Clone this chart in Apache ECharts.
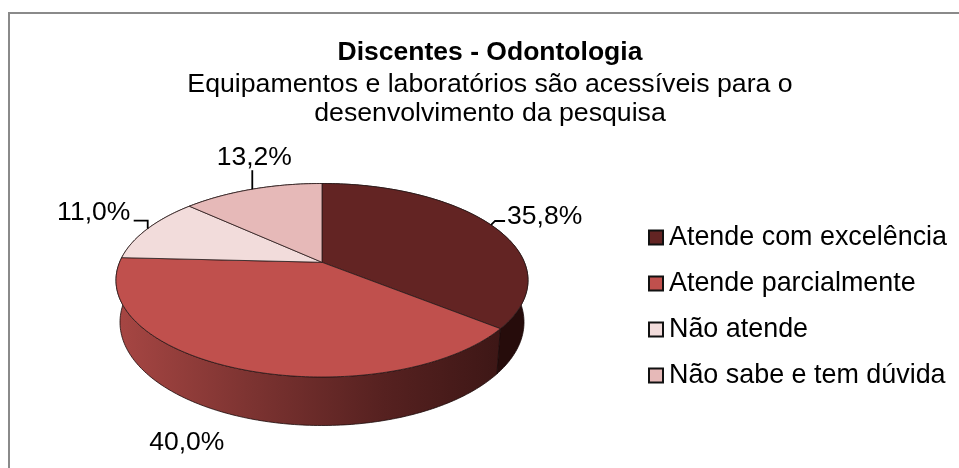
<!DOCTYPE html>
<html>
<head>
<meta charset="utf-8">
<style>
  html, body { margin: 0; padding: 0; background: #fff; }
  #chart { width: 959px; height: 468px; }
</style>
</head>
<body>
<div id="chart"></div>
<script src="https://cdn.jsdelivr.net/npm/echarts@6/dist/echarts.min.js"></script>
<script>
var categories = ["Atende com excelência", "Atende parcialmente", "Não atende", "Não sabe e tem dúvida"];
var values = [35.8, 40.0, 11.0, 13.2];

var faceColors = ["#632423", "#C0504D", "#F2DCDB", "#E6B9B8"];
var font = "Liberation Sans";

// top and bottom rim of the disc, seen in perspective
var topRim = { cx: 322, top: 183.5, bottom: 377, rx: 206 };
var bottomRim = { cx: 322, top: 219, bottom: 425.5, rx: 202 };
var perspective = -0.1856;

// label position and leader bend, relative to the rim point of the slice
var labelOffsets = [[16, -8], [-48, 75], [-54, -16], [2, -32]];
var leaderPaths = [[[4, -4], [14, -4]], [], [[0, -8], [-14, -8]], [[0, -19]]];

function rimPoint(rim, share) {
  var angle = share * 2 * Math.PI;
  var u = Math.sin(angle);
  var v = -Math.cos(angle);
  var k = perspective;
  // apex height so that v = -1 and v = 1 land on the rim's top and bottom
  var apexY = ((1 + k) * rim.bottom + (1 - k) * rim.top) / 2;
  var a = (rim.bottom - apexY) * (1 + k);
  var ellipseCy = (rim.top + rim.bottom) / 2;
  var ry = (rim.bottom - rim.top) / 2;
  var d = (apexY - ellipseCy) / ry;
  var halfX = rim.rx * Math.sqrt(1 - d * d);
  return [rim.cx + halfX * u / (1 + k * v), apexY + a * v / (1 + k * v)];
}

function apex(rim) {
  var k = perspective;
  return [rim.cx, ((1 + k) * rim.bottom + (1 - k) * rim.top) / 2];
}

function sliceRange(i) {
  var total = values.reduce(function (s, v) { return s + v; }, 0);
  var before = 0;
  for (var n = 0; n < i; n++) before += values[n];
  return [before / total, (before + values[i]) / total];
}

function arc(rim, from, to) {
  var pts = [];
  var steps = Math.max(2, Math.ceil((to - from) * 400));
  for (var s = 0; s <= steps; s++) {
    pts.push(rimPoint(rim, from + (to - from) * s / steps));
  }
  return pts;
}

function wallFill(i) {
  if (i === 1) {
    return {
      type: "linear", x: 120, y: 0, x2: 497, y2: 0, global: true,
      colorStops: [
        { offset: 0, color: "#A64643" },
        { offset: 0.35, color: "#7C3331" },
        { offset: 0.7, color: "#562120" },
        { offset: 1, color: "#3E1716" }
      ]
    };
  }
  return i === 0 ? "#260C0B" : "#7A6E6E";
}

function renderWall(params) {
  var range = sliceRange(params.dataIndex);
  var outer = arc(topRim, range[0], range[1]);
  var inner = arc(bottomRim, range[0], range[1]).reverse();
  return {
    type: "polygon",
    shape: { points: outer.concat(inner) },
    style: { fill: wallFill(params.dataIndex), stroke: "#1c0a0a", lineWidth: 0.8 }
  };
}

function renderFace(i) {
  return function () {
    var range = sliceRange(i);
    var points = [apex(topRim)].concat(arc(topRim, range[0], range[1]));
    var anchor = rimPoint(topRim, (range[0] + range[1]) / 2);
    var children = [{
      type: "polygon",
      shape: { points: points },
      style: { fill: faceColors[i], stroke: "#2a1a1a", lineWidth: 0.8 }
    }];
    if (leaderPaths[i].length) {
      children.push({
        type: "polyline",
        shape: {
          points: [anchor].concat(leaderPaths[i].map(function (p) {
            return [anchor[0] + p[0], anchor[1] + p[1]];
          }))
        },
        style: { fill: null, stroke: "#000", lineWidth: 1.8 }
      });
    }
    children.push({
      type: "text",
      x: anchor[0] + labelOffsets[i][0],
      y: anchor[1] + labelOffsets[i][1],
      style: {
        text: values[i].toFixed(1).replace(".", ",") + "%",
        font: "26.5px '" + font + "'",
        fill: "#000",
        align: i === 0 ? "left" : "center",
        verticalAlign: "middle"
      }
    });
    return { type: "group", children: children };
  };
}

var series = [{
  name: "wall",
  type: "custom",
  coordinateSystem: "none",
  z: 1,
  silent: true,
  data: values,
  renderItem: renderWall
}];

categories.forEach(function (name, i) {
  series.push({
    name: name,
    type: "custom",
    coordinateSystem: "none",
    z: 2,
    silent: true,
    itemStyle: { color: faceColors[i] },
    data: [values[i]],
    renderItem: renderFace(i)
  });
});

var chart = echarts.init(document.getElementById("chart"));
chart.setOption({
  animation: false,
  title: {
    text: "Discentes - Odontologia",
    subtext: "Equipamentos e laboratórios são acessíveis para o\ndesenvolvimento da pesquisa",
    left: 490,
    textAlign: "center",
    top: 39,
    padding: 0,
    itemGap: 4,
    textStyle: { fontFamily: font, fontSize: 26.5, fontWeight: "bold", color: "#000" },
    subtextStyle: { fontFamily: font, fontSize: 26.7, color: "#000", lineHeight: 29 }
  },
  legend: {
    orient: "vertical",
    left: 648,
    top: 223,
    padding: 0,
    itemGap: 17,
    itemWidth: 14,
    itemHeight: 14,
    selectedMode: false,
    icon: "rect",
    data: categories.map(function (name, i) {
      return {
        name: name,
        itemStyle: { color: faceColors[i], borderColor: "#111", borderWidth: 2 }
      };
    }),
    textStyle: { fontFamily: font, fontSize: 26.9, color: "#000", padding: [0, 0, 0, 1], lineHeight: 29 }
  },
  graphic: [
    { type: "rect", silent: true, shape: { x: 8, y: 12, width: 951, height: 2 }, style: { fill: "#8a8a8a" } },
    { type: "rect", silent: true, shape: { x: 8, y: 12, width: 2, height: 456 }, style: { fill: "#8a8a8a" } }
  ],
  series: series
});
</script>
</body>
</html>
